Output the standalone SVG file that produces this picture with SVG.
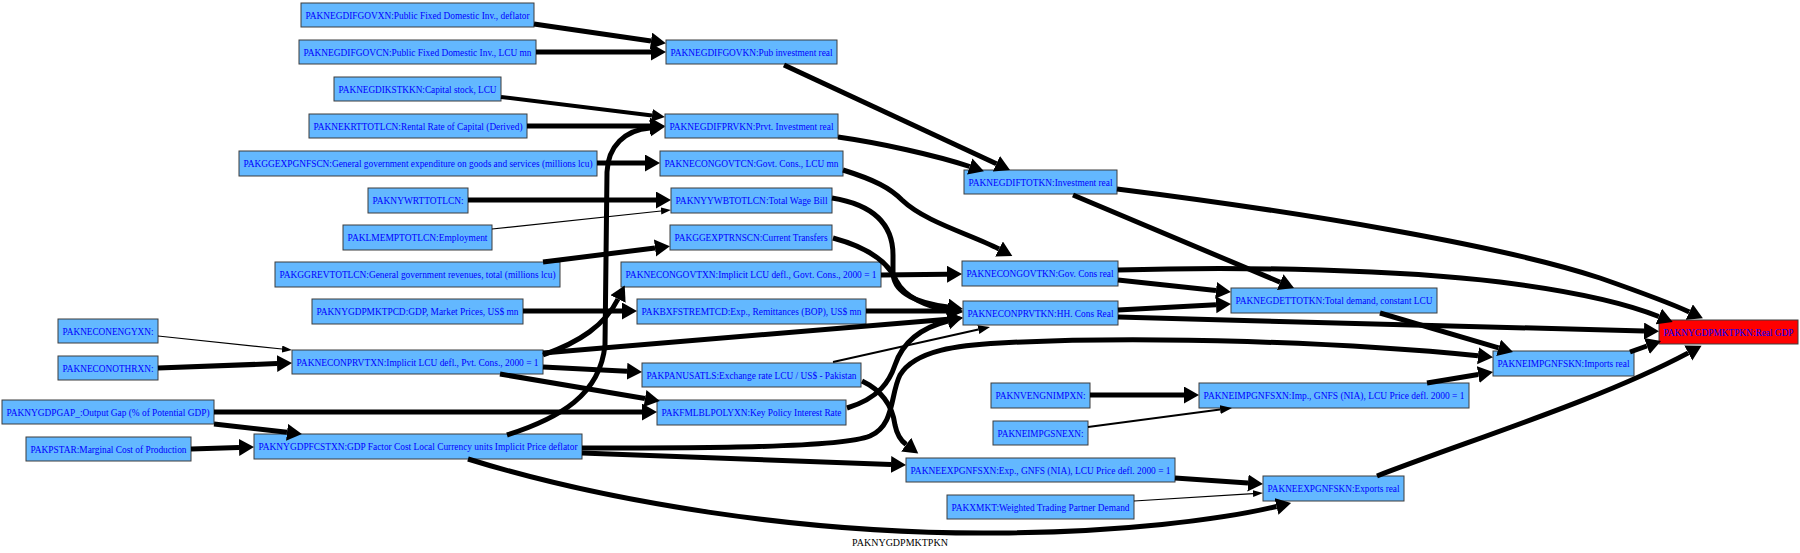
<svg xmlns="http://www.w3.org/2000/svg" width="1800" height="553" viewBox="0 0 1800 553">
<style>
.n rect{fill:#63b8ff;stroke:#3c3c3c;stroke-width:1}
.n.r rect{fill:#ff0000}
.n text,.lbl{font-family:"Liberation Serif","Times New Roman",serif;font-size:10px;text-anchor:middle}
.n text{fill:#0000ff}
.lbl{fill:#000}
.e path{fill:none;stroke:#000;stroke-width:5}
.e path.b{marker-end:url(#big)}
.e path.m4{stroke-width:4;marker-end:url(#mid4)}
.e path.md{stroke-width:2;marker-end:url(#med)}
.e path.s{stroke-width:1.2;marker-end:url(#small)}
</style>
<defs>
<marker id="big" markerUnits="userSpaceOnUse" markerWidth="16" markerHeight="18" refX="0" refY="8.5" orient="auto"><path d="M0,0 L15,8.5 L0,17 z" fill="#000"/></marker>
<marker id="mid4" markerUnits="userSpaceOnUse" markerWidth="14" markerHeight="14" refX="0" refY="6.5" orient="auto"><path d="M0,0 L13,6.5 L0,13 z" fill="#000"/></marker>
<marker id="med" markerUnits="userSpaceOnUse" markerWidth="13" markerHeight="10" refX="0" refY="4.5" orient="auto"><path d="M0,0 L12,4.5 L0,9 z" fill="#000"/></marker>
<marker id="small" markerUnits="userSpaceOnUse" markerWidth="11" markerHeight="8" refX="0" refY="3.5" orient="auto"><path d="M0,0 L10,3.5 L0,7 z" fill="#000"/></marker>
</defs>
<rect width="1800" height="553" fill="#fff"/>
<g id="nodes">
<g id="PAKNEGDIFGOVXN" class="n"><rect x="301" y="3" width="233" height="24"/><text x="417.5" y="18.5" textLength="224" lengthAdjust="spacingAndGlyphs">PAKNEGDIFGOVXN:Public Fixed Domestic Inv., deflator</text></g>
<g id="PAKNEGDIFGOVCN" class="n"><rect x="299" y="40" width="237" height="24"/><text x="417.5" y="55.5" textLength="228" lengthAdjust="spacingAndGlyphs">PAKNEGDIFGOVCN:Public Fixed Domestic Inv., LCU mn</text></g>
<g id="PAKNEGDIKSTKKN" class="n"><rect x="334" y="77" width="167" height="24"/><text x="417.5" y="92.5" textLength="158" lengthAdjust="spacingAndGlyphs">PAKNEGDIKSTKKN:Capital stock, LCU</text></g>
<g id="PAKNEKRTTOTLCN" class="n"><rect x="309" y="114" width="218" height="24"/><text x="418" y="129.5" textLength="209" lengthAdjust="spacingAndGlyphs">PAKNEKRTTOTLCN:Rental Rate of Capital (Derived)</text></g>
<g id="PAKGGEXPGNFSCN" class="n"><rect x="239" y="151" width="358" height="25"/><text x="418" y="167" textLength="349" lengthAdjust="spacingAndGlyphs">PAKGGEXPGNFSCN:General government expenditure on goods and services (millions lcu)</text></g>
<g id="PAKNYWRTTOTLCN" class="n"><rect x="368" y="188" width="100" height="25"/><text x="418" y="204" textLength="91" lengthAdjust="spacingAndGlyphs">PAKNYWRTTOTLCN:</text></g>
<g id="PAKLMEMPTOTLCN" class="n"><rect x="343" y="225" width="149" height="25"/><text x="417.5" y="241" textLength="140" lengthAdjust="spacingAndGlyphs">PAKLMEMPTOTLCN:Employment</text></g>
<g id="PAKGGREVTOTLCN" class="n"><rect x="275" y="262" width="285" height="25"/><text x="417.5" y="278" textLength="276" lengthAdjust="spacingAndGlyphs">PAKGGREVTOTLCN:General government revenues, total (millions lcu)</text></g>
<g id="PAKNYGDPMKTPCD" class="n"><rect x="312" y="299" width="211" height="25"/><text x="417.5" y="315" textLength="202" lengthAdjust="spacingAndGlyphs">PAKNYGDPMKTPCD:GDP, Market Prices, US$ mn</text></g>
<g id="PAKNECONENGYXN" class="n"><rect x="58" y="319" width="100" height="24"/><text x="108" y="334.5" textLength="91" lengthAdjust="spacingAndGlyphs">PAKNECONENGYXN:</text></g>
<g id="PAKNECONOTHRXN" class="n"><rect x="58" y="356" width="100" height="24"/><text x="108" y="371.5" textLength="91" lengthAdjust="spacingAndGlyphs">PAKNECONOTHRXN:</text></g>
<g id="PAKNECONPRVTXN" class="n"><rect x="292" y="350" width="251" height="24"/><text x="417.5" y="365.5" textLength="242" lengthAdjust="spacingAndGlyphs">PAKNECONPRVTXN:Implicit LCU defl., Pvt. Cons., 2000 = 1</text></g>
<g id="PAKNYGDPGAP_" class="n"><rect x="2" y="400" width="212" height="24"/><text x="108" y="415.5" textLength="203" lengthAdjust="spacingAndGlyphs">PAKNYGDPGAP_:Output Gap (% of Potential GDP)</text></g>
<g id="PAKPSTAR" class="n"><rect x="26" y="437" width="165" height="24"/><text x="108.5" y="452.5" textLength="156" lengthAdjust="spacingAndGlyphs">PAKPSTAR:Marginal Cost of Production</text></g>
<g id="PAKNYGDPFCSTXN" class="n"><rect x="254" y="434" width="328" height="25"/><text x="418" y="450" textLength="319" lengthAdjust="spacingAndGlyphs">PAKNYGDPFCSTXN:GDP Factor Cost Local Currency units Implicit Price deflator</text></g>
<g id="PAKNEGDIFGOVKN" class="n"><rect x="666" y="40" width="171" height="24"/><text x="751.5" y="55.5" textLength="162" lengthAdjust="spacingAndGlyphs">PAKNEGDIFGOVKN:Pub investment real</text></g>
<g id="PAKNEGDIFPRVKN" class="n"><rect x="665" y="114" width="173" height="24"/><text x="751.5" y="129.5" textLength="164" lengthAdjust="spacingAndGlyphs">PAKNEGDIFPRVKN:Prvt. Investment real</text></g>
<g id="PAKNECONGOVTCN" class="n"><rect x="660" y="151" width="183" height="25"/><text x="751.5" y="167" textLength="174" lengthAdjust="spacingAndGlyphs">PAKNECONGOVTCN:Govt. Cons., LCU mn</text></g>
<g id="PAKNYYWBTOTLCN" class="n"><rect x="671" y="188" width="161" height="25"/><text x="751.5" y="204" textLength="152" lengthAdjust="spacingAndGlyphs">PAKNYYWBTOTLCN:Total Wage Bill</text></g>
<g id="PAKGGEXPTRNSCN" class="n"><rect x="670" y="225" width="162" height="25"/><text x="751" y="241" textLength="153" lengthAdjust="spacingAndGlyphs">PAKGGEXPTRNSCN:Current Transfers</text></g>
<g id="PAKNECONGOVTXN" class="n"><rect x="621" y="262" width="260" height="25"/><text x="751" y="278" textLength="251" lengthAdjust="spacingAndGlyphs">PAKNECONGOVTXN:Implicit LCU defl., Govt. Cons., 2000 = 1</text></g>
<g id="PAKBXFSTREMTCD" class="n"><rect x="637" y="299" width="229" height="25"/><text x="751.5" y="315" textLength="220" lengthAdjust="spacingAndGlyphs">PAKBXFSTREMTCD:Exp., Remittances (BOP), US$ mn</text></g>
<g id="PAKPANUSATLS" class="n"><rect x="642" y="363" width="219" height="24"/><text x="751.5" y="378.5" textLength="210" lengthAdjust="spacingAndGlyphs">PAKPANUSATLS:Exchange rate LCU / US$ - Pakistan</text></g>
<g id="PAKFMLBLPOLYXN" class="n"><rect x="657" y="400" width="189" height="25"/><text x="751.5" y="416" textLength="180" lengthAdjust="spacingAndGlyphs">PAKFMLBLPOLYXN:Key Policy Interest Rate</text></g>
<g id="PAKNEGDIFTOTKN" class="n"><rect x="964" y="170" width="153" height="24"/><text x="1040.5" y="185.5" textLength="144" lengthAdjust="spacingAndGlyphs">PAKNEGDIFTOTKN:Investment real</text></g>
<g id="PAKNECONGOVTKN" class="n"><rect x="962" y="261" width="156" height="25"/><text x="1040" y="277" textLength="147" lengthAdjust="spacingAndGlyphs">PAKNECONGOVTKN:Gov. Cons real</text></g>
<g id="PAKNECONPRVTKN" class="n"><rect x="963" y="301" width="155" height="24"/><text x="1040.5" y="316.5" textLength="146" lengthAdjust="spacingAndGlyphs">PAKNECONPRVTKN:HH. Cons Real</text></g>
<g id="PAKNVENGNIMPXN" class="n"><rect x="991" y="383" width="99" height="25"/><text x="1040.5" y="399" textLength="90" lengthAdjust="spacingAndGlyphs">PAKNVENGNIMPXN:</text></g>
<g id="PAKNEIMPGSNEXN" class="n"><rect x="993" y="421" width="95" height="24"/><text x="1040.5" y="436.5" textLength="86" lengthAdjust="spacingAndGlyphs">PAKNEIMPGSNEXN:</text></g>
<g id="PAKNEEXPGNFSXN" class="n"><rect x="906" y="458" width="269" height="24"/><text x="1040.5" y="473.5" textLength="260" lengthAdjust="spacingAndGlyphs">PAKNEEXPGNFSXN:Exp., GNFS (NIA), LCU Price defl. 2000 = 1</text></g>
<g id="PAKXMKT" class="n"><rect x="947" y="495" width="187" height="24"/><text x="1040.5" y="510.5" textLength="178" lengthAdjust="spacingAndGlyphs">PAKXMKT:Weighted Trading Partner Demand</text></g>
<g id="PAKNEGDETTOTKN" class="n"><rect x="1231" y="288" width="206" height="25"/><text x="1334" y="304" textLength="197" lengthAdjust="spacingAndGlyphs">PAKNEGDETTOTKN:Total demand, constant LCU</text></g>
<g id="PAKNEIMPGNFSXN" class="n"><rect x="1199" y="383" width="270" height="25"/><text x="1334" y="399" textLength="261" lengthAdjust="spacingAndGlyphs">PAKNEIMPGNFSXN:Imp., GNFS (NIA), LCU Price defl. 2000 = 1</text></g>
<g id="PAKNEEXPGNFSKN" class="n"><rect x="1263" y="476" width="141" height="25"/><text x="1333.5" y="492" textLength="132" lengthAdjust="spacingAndGlyphs">PAKNEEXPGNFSKN:Exports real</text></g>
<g id="PAKNEIMPGNFSKN" class="n"><rect x="1493" y="351" width="141" height="25"/><text x="1563.5" y="367" textLength="132" lengthAdjust="spacingAndGlyphs">PAKNEIMPGNFSKN:Imports real</text></g>
<g id="PAKNYGDPMKTPKN" class="n r"><rect x="1659" y="320" width="139" height="24"/><text x="1728.5" y="335.5" textLength="130" lengthAdjust="spacingAndGlyphs">PAKNYGDPMKTPKN:Real GDP</text></g>
</g>
<g id="edges" class="e">
<path class="b" d="M534,24 L651,41"/>
<path class="b" d="M536,52 L651,52"/>
<path class="m4" d="M501,97 L652,115.4"/>
<path class="b" d="M527,126 L650,126"/>
<path class="b" d="M597,163 L645,163"/>
<path class="b" d="M468,200 L656,200"/>
<path class="s" d="M492,229 L661,211"/>
<path class="b" d="M543,262 L655,248"/>
<path class="b" d="M523,311 L622,311"/>
<path class="s" d="M158,336 L282,349"/>
<path class="b" d="M158,368 L277,363.6"/>
<path class="b" d="M214,412 L642,412"/>
<path class="b" d="M214,424 L287,432.3"/>
<path class="b" d="M191,449 L239,447.4"/>
<path class="b" d="M507,435 C560,418 600,395 605,345 L607,172 C608,146 625,130 650,128"/>
<path class="b" d="M543,355 C580,342 605,325 618,299"/>
<path class="b" d="M543,353 L948,319.2"/>
<path class="b" d="M543,367 L627,371.2"/>
<path class="b" d="M500,374 L645,398.5"/>
<path class="b" d="M881,275 L947,274.2"/>
<path class="b" d="M832,198 C875,205 893,225 893,255 L893,272 C893,296 925,304 948,307"/>
<path class="b" d="M833,238 C870,248 888,262 896,280 C905,298 928,307 948,310"/>
<path class="b" d="M843,170 C875,180 890,188 902,200 C925,222 970,234 999,249"/>
<path class="b" d="M784,65 L996.4,163.7"/>
<path class="b" d="M838,137 C880,143 935,155 969.7,166.5"/>
<path class="b" d="M866,311 L948,311"/>
<path class="b" d="M847,408 C880,398 890,380 895,365 C905,335 932,325 948,321"/>
<path class="md" d="M833,362 L978.3,329.6"/>
<path class="b" d="M862,381 C885,392 893,410 895,425 C897,435 900,440 906.2,444.6"/>
<path class="b" d="M582,453 L891,464.5"/>
<path class="b" d="M582,448 C700,448 840,448 870,436 C895,425 890,395 900,375 C915,350 960,345 1000,343 C1150,335 1350,343 1478,355.8"/>
<path class="b" d="M468,459 C600,500 800,535 1000,533 C1120,532 1220,520 1276.5,506.5"/>
<path class="b" d="M1118,280 L1216,290.4"/>
<path class="b" d="M1118,310 L1216,304.7"/>
<path class="b" d="M1073,195 L1280.2,282.2"/>
<path class="b" d="M1117,189 C1300,212 1500,245 1600,278 C1640,292 1668,302 1689.3,312"/>
<path class="b" d="M1118,270 C1250,266 1400,270 1500,282 C1580,292 1630,305 1658.8,316.5"/>
<path class="b" d="M1118,317 C1300,322 1500,328 1644,331"/>
<path class="b" d="M1380,313 L1498.6,347.8"/>
<path class="b" d="M1427,383 L1478.2,374.5"/>
<path class="b" d="M1630,352 L1646.9,346"/>
<path class="b" d="M1377,476 C1470,440 1600,400 1688.3,352.9"/>
<path class="b" d="M1090,395 L1184,395"/>
<path class="md" d="M1088,427 L1220.1,409.6"/>
<path class="b" d="M1175,478 L1248,483"/>
<path class="s" d="M1134,501 L1253,493.6"/>
</g>
<text class="lbl" x="900" y="546">PAKNYGDPMKTPKN</text>
</svg>
